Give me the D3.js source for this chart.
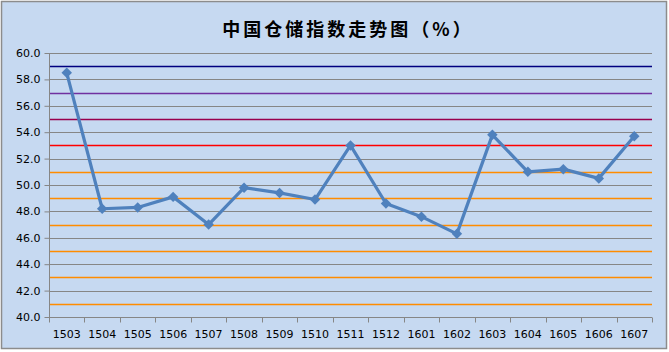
<!DOCTYPE html>
<html>
<head>
<meta charset="utf-8">
<script src="https://cdn.jsdelivr.net/npm/d3@7"></script>
<style>
  body { margin: 0; background: #fff; }
  svg text { font-family: "DejaVu Sans", Tahoma, sans-serif; }
</style>
</head>
<body>
<div id="chart"></div>
<script>
const title = '中国仓储指数走势图（%）';
const months = ['1503', '1504', '1505', '1506', '1507', '1508', '1509', '1510', '1511',
  '1512', '1601', '1602', '1603', '1604', '1605', '1606', '1607'];
const values = [58.5, 48.2, 48.3, 49.1, 47.0, 49.8, 49.4, 48.9, 53.0,
  48.6, 47.6, 46.3, 53.8, 51.0, 51.2, 50.5, 53.7];
const yTicks = [40, 42, 44, 46, 48, 50, 52, 54, 56, 58, 60];
// coloured reference lines at the odd values
const refLevels = [59, 57, 55, 53, 51, 49, 47, 45, 43, 41];
const refColors = ['#000080', '#7030a0', '#99004d', '#ff0000', '#ff8c00', '#ff8c00',
  '#ff8c00', '#ff8c00', '#ff8c00', '#ff8c00'];

const width = 669, height = 352;
const margin = {top: 53, right: 17, bottom: 35, left: 49};

const svg = d3.select('#chart').append('svg')
  .attr('width', width)
  .attr('height', height);

svg.append('rect')
  .attr('x', 1.5).attr('y', 1.5)
  .attr('width', width - 4).attr('height', height - 5)
  .attr('fill', '#c6d9f1')
  .attr('stroke', '#8c8c8c')
  .attr('stroke-width', 1.5);

svg.append('text')
  .attr('x', 348).attr('y', 36)
  .attr('text-anchor', 'middle')
  .style('font-family', '"Noto Sans CJK SC", sans-serif')
  .style('font-weight', 'bold')
  .style('font-size', '18px')
  .style('letter-spacing', '3px')
  .text(title);

const x = d3.scaleBand()
  .domain(months)
  .range([margin.left, width - margin.right]);

const y = d3.scaleLinear()
  .domain([40, 60])
  .range([height - margin.bottom, margin.top]);

// gray gridlines
svg.append('g').selectAll('line')
  .data(yTicks.slice(1))
  .join('line')
  .attr('x1', margin.left).attr('x2', width - margin.right)
  .attr('y1', d => Math.round(y(d)) + 0.5).attr('y2', d => Math.round(y(d)) + 0.5)
  .attr('stroke', '#868686');

svg.append('g').selectAll('line')
  .data(refLevels)
  .join('line')
  .attr('x1', margin.left).attr('x2', width - margin.right)
  .attr('y1', d => Math.round(y(d)) + 0.5).attr('y2', d => Math.round(y(d)) + 0.5)
  .attr('stroke', (d, i) => refColors[i])
  .attr('stroke-width', 1.4);

// y axis
const yAxis = svg.append('g')
  .attr('transform', `translate(${margin.left + 0.5},0)`)
  .call(d3.axisLeft(y).tickValues(yTicks).tickFormat(d3.format('.1f')).tickSize(5).tickPadding(4));
yAxis.selectAll('line, path').attr('stroke', '#868686');
yAxis.select('.domain').attr('d', `M0,${y(60)}V${y(40)}`);
yAxis.selectAll('text').style('font-size', '11px').attr('fill', '#000');

// x axis with ticks between categories
const xAxisG = svg.append('g')
  .attr('transform', `translate(0,${Math.round(y(40)) + 0.5})`);
xAxisG.append('line')
  .attr('x1', margin.left).attr('x2', width - margin.right)
  .attr('stroke', '#868686');
const edges = months.map(m => x(m)).concat([x.range()[1]]);
xAxisG.selectAll('.tickMark')
  .data(edges)
  .join('line')
  .attr('class', 'tickMark')
  .attr('x1', d => Math.round(d) + 0.5).attr('x2', d => Math.round(d) + 0.5)
  .attr('y1', 0).attr('y2', 5)
  .attr('stroke', '#868686');
xAxisG.selectAll('text')
  .data(months)
  .join('text')
  .attr('x', d => x(d) + x.bandwidth() / 2)
  .attr('y', 20)
  .attr('text-anchor', 'middle')
  .style('font-size', '11px')
  .attr('fill', '#000')
  .text(d => d);

// series line
const line = d3.line()
  .x((d, i) => x(months[i]) + x.bandwidth() / 2)
  .y(d => y(d));

svg.append('path')
  .datum(values)
  .attr('d', line)
  .attr('fill', 'none')
  .attr('stroke', '#4f81bd')
  .attr('stroke-width', 3.2)
  .attr('stroke-linejoin', 'round');

svg.append('g').selectAll('path')
  .data(values)
  .join('path')
  .attr('d', d3.symbol(d3.symbolDiamond2, 70))
  .attr('transform', (d, i) => `translate(${x(months[i]) + x.bandwidth() / 2},${y(d)})`)
  .attr('fill', '#4f81bd');
</script>
</body>
</html>
